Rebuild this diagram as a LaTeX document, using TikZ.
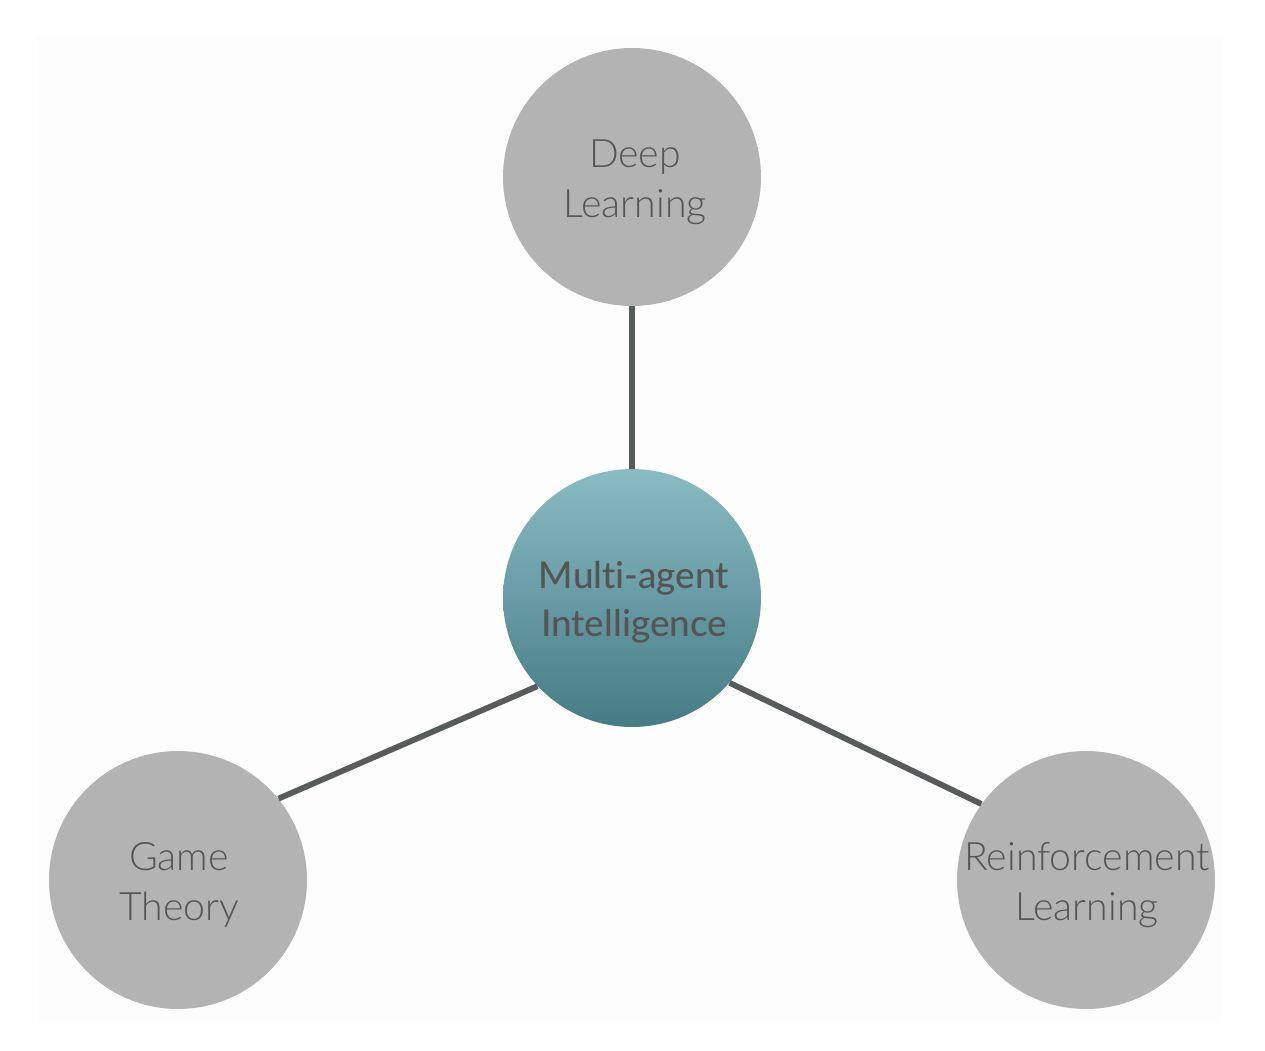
\documentclass[tikz,border=0pt]{standalone}
\usepackage{fontspec}
\setmainfont{Lato}[UprightFont=* Light, BoldFont=* Medium, Ligatures=NoCommon]
\begin{document}
\begin{tikzpicture}[x=0.02cm,y=-0.02cm,
  topic/.style={circle, fill=topicgray, minimum size=5.16cm, inner sep=0pt},
  hub/.style={circle, minimum size=5.16cm, inner sep=0pt, shading=axis,
    top color=hubtop, bottom color=hubbot},
  topiclabel/.style={text=textgray, align=center, font=\fontsize{22.3}{28.5}\selectfont},
  hublabel/.style={text=textgray, align=center, font=\fontsize{21}{27.5}\selectfont\bfseries},
  link/.style={draw=linegray, line width=3.3pt}]
\definecolor{topicgray}{HTML}{B3B3B3}
\definecolor{textgray}{HTML}{555555}
\definecolor{hubtop}{HTML}{8ABBC2}
\definecolor{hubbot}{HTML}{467C85}
\definecolor{linegray}{HTML}{575B5B}
\definecolor{bggray}{HTML}{FDFDFD}
\useasboundingbox (0,0) rectangle (1265,1051);
\fill[bggray] (37,37) rectangle (1222,1023);
\node[hub] (c) at (632,598) {};
\node[hublabel] (ct) at (634,602) {Multi-agent\\Intelligence};
\node[topic] (d) at (632,177) {};
\node[topiclabel] (dt) at (635,182) {Deep\\Learning};
\node[topic] (g) at (178,880) {};
\node[topiclabel] (gt) at (179,885) {Game\\Theory};
\node[topic] (r) at (1086,880) {};
\node[topiclabel] (rt) at (1087,885) {Reinforcement\\Learning};
\draw[link] (d.south) -- (c.north);
\draw[link] (c.223) -- (g.39);
\draw[link] (c.319) -- (r.144);
\end{tikzpicture}
\end{document}
